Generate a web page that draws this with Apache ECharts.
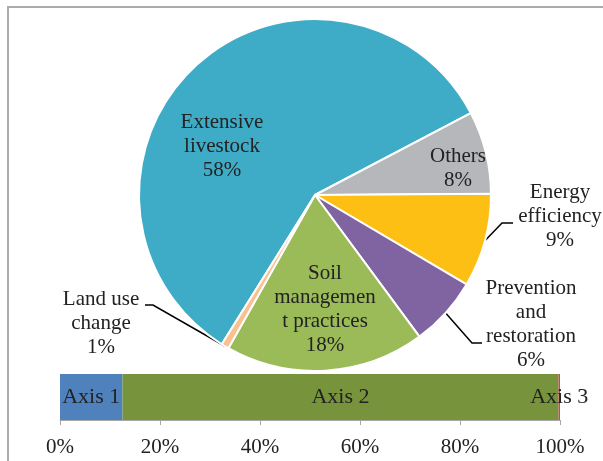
<!DOCTYPE html>
<html>
<head>
<meta charset="utf-8">
<script src="https://cdn.jsdelivr.net/npm/echarts@6/dist/echarts.min.js"></script>
<style>
  html, body { margin: 0; padding: 0; background: #fff; }
  #main { width: 603px; height: 461px; }
</style>
</head>
<body>
<div id="main"></div>
<script>
// pie slices (share, %)
var sliceNames = ['Extensive\nlivestock', 'Others', 'Energy\nefficiency', 'Prevention\nand\nrestoration', 'Soil\nmanagemen\nt practices', 'Land use\nchange'];
var sliceValues = [58.4, 7.6, 8.6, 6.4, 18.3, 0.7];
var sliceColors = ['#3facc7', '#b6b7ba', '#fdbf14', '#8064a2', '#9bbb59', '#fac090'];

// bottom stacked bar
var barNames = ['Axis 1', 'Axis 2', 'Axis 3'];
var barValues = [12.5, 87.2, 0.3];
var barColors = ['#4f81bd', '#77933c', '#c0504d'];
var tickLabels = ['0%', '20%', '40%', '60%', '80%', '100%'];

// label centres and leader bends (layout only)
var labelPos = [[222, 146], [458, 168], [560, 216], [531, 324], [325, 309], [101, 323]];
var labelBend = [null, null, [[502, 223], [513, 223]], [[472, 343], [482, 343]], null, [[153, 305], [145, 305]]];
var outside = [false, false, true, true, false, true];

var font = 'Liberation Serif, Times New Roman, serif';

var chart = echarts.init(document.getElementById('main'));

var pieData = sliceNames.map(function (n, i) {
    return {
        name: n,
        value: sliceValues[i],
        itemStyle: { color: sliceColors[i] },
        label: { position: outside[i] ? 'outside' : 'inside' },
        labelLine: { show: outside[i] }
    };
});

var barSeries = barNames.map(function (n, i) {
    return {
        type: 'bar',
        name: n,
        stack: 'all',
        barWidth: '100%',
        data: [barValues[i]],
        itemStyle: { color: barColors[i] },
        label: {
            show: true,
            position: 'inside',
            formatter: n,
            color: '#222',
            fontFamily: font,
            fontSize: 22
        },
        silent: true
    };
});

var option = {
    animation: false,
    graphic: [{
        type: 'rect',
        shape: { x: 8, y: 7, width: 700, height: 600 },
        style: { fill: 'none', stroke: '#ababab', lineWidth: 2 },
        z: -1
    }],
    grid: { left: 60, right: 43, top: 374, height: 46 },
    xAxis: {
        type: 'value',
        min: 0,
        max: 100,
        interval: 20,
        axisLine: { show: true, lineStyle: { color: '#a6a6a6', width: 1 } },
        axisTick: { show: true, length: 5, lineStyle: { color: '#a6a6a6' } },
        splitLine: { show: false },
        axisLabel: {
            margin: 17,
            color: '#222',
            fontFamily: font,
            fontSize: 21,
            formatter: function (v) { return tickLabels[Math.round(v / 20)]; }
        }
    },
    yAxis: {
        type: 'category',
        data: [''],
        show: false
    },
    series: [{
        type: 'pie',
        center: [315, 195],
        radius: 176,
        startAngle: 238,
        clockwise: true,
        avoidLabelOverlap: false,
        itemStyle: { borderColor: '#fff', borderWidth: 2 },
        label: {
            color: '#222',
            fontFamily: font,
            fontSize: 21,
            lineHeight: 24,
            align: 'center',
            formatter: function (p) { return p.name + '\n' + Math.round(p.value) + '%'; }
        },
        labelLine: { lineStyle: { color: '#000', width: 1.5 }, length: 15, length2: 10 },
        labelLayout: function (p) {
            var i = p.dataIndex;
            var pos = labelPos[i];
            var out = { x: pos[0], y: pos[1], align: 'center', verticalAlign: 'middle' };
            if (labelBend[i] && p.labelLinePoints) {
                out.labelLinePoints = [p.labelLinePoints[0]].concat(labelBend[i]);
            }
            return out;
        },
        data: pieData,
        silent: true
    }].concat(barSeries)
};

chart.setOption(option);
</script>
</body>
</html>
